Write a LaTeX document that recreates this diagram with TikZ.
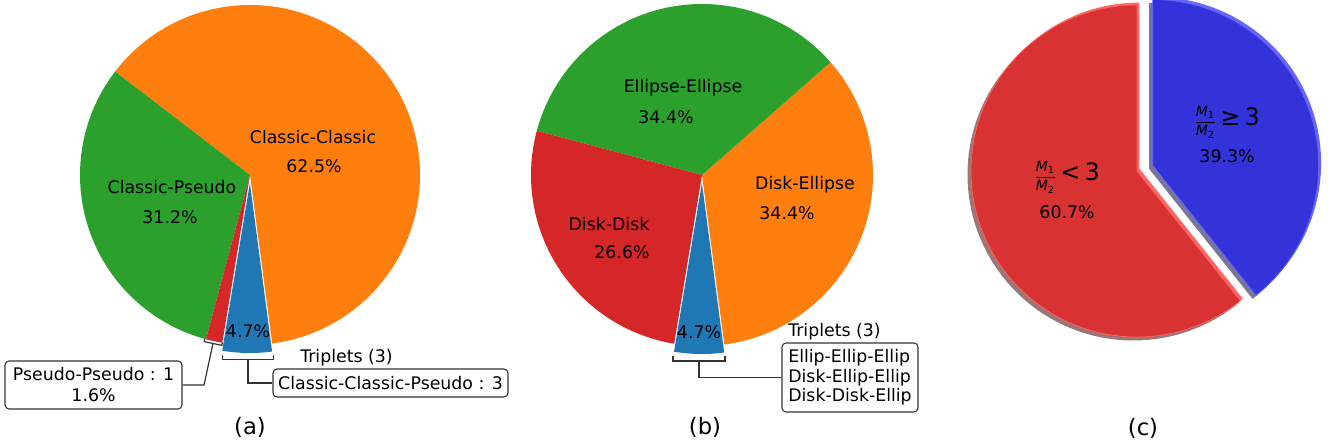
\documentclass[tikz,border=0pt]{standalone}
\usepackage{fontspec}
\setmainfont{DejaVu Sans}
\usepackage{amsmath}
\usetikzlibrary{calc}
\definecolor{tabblue}{HTML}{1F77B4}
\definecolor{taborange}{HTML}{FF7F0E}
\definecolor{tabgreen}{HTML}{2CA02C}
\definecolor{tabred}{HTML}{D62728}
\definecolor{cred}{HTML}{D93232}
\definecolor{cblue}{HTML}{3333D9}
\definecolor{credhi}{HTML}{FF6666}
\definecolor{cbluehi}{HTML}{6666FF}
\definecolor{credsh}{HTML}{9A7676}
\definecolor{cbluesh}{HTML}{76769A}
\definecolor{linecol}{HTML}{333333}
\newcommand{\pieslice}[5]{\fill[#1] (#2) -- ++(#3:#5) arc[start angle=#3, end angle=#4, radius=#5] -- cycle;}
\newcommand{\brk}[4]{\begin{scope}[shift={(#1)},rotate=#2]\draw[conn] (-#3,#4) -- (-#3,0) -- (#3,0) -- (#3,#4);\end{scope}}
\newcommand{\mfrac}{{\fontsize{10.5}{11}\selectfont$\dfrac{\textit{M}_{\text{1}}}{\textit{M}_{\text{2}}}$}}
\begin{document}
\begin{tikzpicture}[x=0.75pt,y=0.75pt,
  lbl/.style={font=\fontsize{13}{15.75}\selectfont, inner sep=0pt, text=black},
  captxt/.style={font=\fontsize{17}{20}\selectfont, inner sep=0pt},
  conn/.style={draw=linecol, line width=0.9pt},
  box/.style={draw=linecol, line width=0.8pt, rounded corners=3pt, fill=white, inner sep=0pt, font=\fontsize{13}{15.75}\selectfont}]
\useasboundingbox (0,0) rectangle (1336,-448);
% ---------- pie (a)
\coordinate (ca) at (250,-175);
\coordinate (cab) at (249.9,-183);
\pieslice{taborange}{ca}{277.5}{502.5}{170}
\pieslice{tabgreen}{ca}{142.5}{255}{170}
\pieslice{tabred}{ca}{255}{260.625}{170}
\pieslice{tabblue}{cab}{260.625}{277.5}{170}
\node[lbl] (a-cc) at (313,-137) {Classic-Classic};
\node[lbl] (a-ccp) at (314,-166) {62.5\%};
\node[lbl] (a-cp) at (172,-187) {Classic-Pseudo};
\node[lbl] (a-cpp) at (170,-217) {31.2\%};
\node[lbl] (a-bl) at (248,-331) {4.7\%};
% annotations (a)
\node[box, minimum width=132.75pt, minimum height=36pt, align=center] (a-pp) at (93.5,-385) {Pseudo-Pseudo : 1\\1.6\%};
\coordinate (rk) at (204,-385);
\coordinate (rb) at (213,-343.5);
\draw[conn] (a-pp.east) -- (rk) -- (rb);
\brk{rb}{-12}{9}{3}
\coordinate (ab) at (248,-359.3);
\node[box, minimum width=176.25pt, minimum height=21pt] (a-ccbox) at (390.5,-383) {Classic-Classic-Pseudo : 3};
\draw[conn] (ab) |- (a-ccbox.west);
\brk{ab}{0}{25.3}{4.3}
\node[lbl, anchor=west] (a-trip) at (300,-358) {Triplets (3)};
\node[captxt] (capa) at (250,-427) {(a)};
% ---------- pie (b)
\coordinate (cb) at (702,-175);
\coordinate (cbb) at (701.9,-183);
\pieslice{taborange}{cb}{277.5}{401.25}{171}
\pieslice{tabgreen}{cb}{41.25}{165}{171}
\pieslice{tabred}{cb}{165}{260.625}{171}
\pieslice{tabblue}{cbb}{260.625}{277.5}{171}
\node[lbl] (b-ee) at (683,-88) {Ellipse-Ellipse};
\node[lbl] (b-eep) at (666,-117) {34.4\%};
\node[lbl] (b-de) at (805,-185) {Disk-Ellipse};
\node[lbl] (b-dep) at (787,-213) {34.4\%};
\node[lbl] (b-dd) at (609,-224) {Disk-Disk};
\node[lbl] (b-ddp) at (622,-252) {26.6\%};
\node[lbl] (b-bl) at (699,-332) {4.7\%};
\coordinate (bb) at (699,-361);
\node[box, minimum width=102pt, minimum height=51.75pt, align=left, font=\fontsize{13}{14.6}\selectfont] (b-tbox) at (850,-377.5) {Ellip-Ellip-Ellip\\Disk-Ellip-Ellip\\Disk-Disk-Ellip};
\draw[conn] (bb) |- (b-tbox.west);
\brk{bb}{0}{26}{4.5}
\node[lbl, anchor=west] (b-trip) at (788,-332) {Triplets (3)};
\node[captxt] (capb) at (705,-427) {(b)};
% ---------- pie (c)
\coordinate (cr) at (1137,-171);
\coordinate (cbl) at (1152.7,-165.5);
\coordinate (cr-sh) at ($(cr)+(-3.5,-3.5)$);
\coordinate (cbl-sh) at ($(cbl)+(-3.5,-3.5)$);
\coordinate (cr-hi) at ($(cr)+(2.4,2.4)$);
\coordinate (cbl-hi) at ($(cbl)+(2.4,2.4)$);
\pieslice{credsh}{cr-sh}{90}{308.52}{166}
\pieslice{cbluesh}{cbl-sh}{-51.48}{90}{166}
\pieslice{credhi}{cr-hi}{90}{308.52}{166}
\pieslice{cbluehi}{cbl-hi}{-51.48}{90}{166}
\pieslice{cred,draw=credhi,line width=0.5pt}{cr}{90}{308.52}{166}
\pieslice{cblue,draw=cbluehi,line width=0.5pt}{cbl}{-51.48}{90}{166}
\node[lbl] (c-r) at (1067,-177) {\mfrac\hspace{3pt}{\fontsize{18}{20}\selectfont<\hspace{3pt}3}};
\node[lbl] (c-rp) at (1067,-212) {60.7\%};
\node[lbl] (c-b) at (1227,-122) {\mfrac\hspace{3pt}{\fontsize{18}{20}\selectfont≥\hspace{3pt}3}};
\node[lbl] (c-bp) at (1227,-156) {39.3\%};
\node[captxt] (capc) at (1143,-428) {(c)};
\end{tikzpicture}
\end{document}
